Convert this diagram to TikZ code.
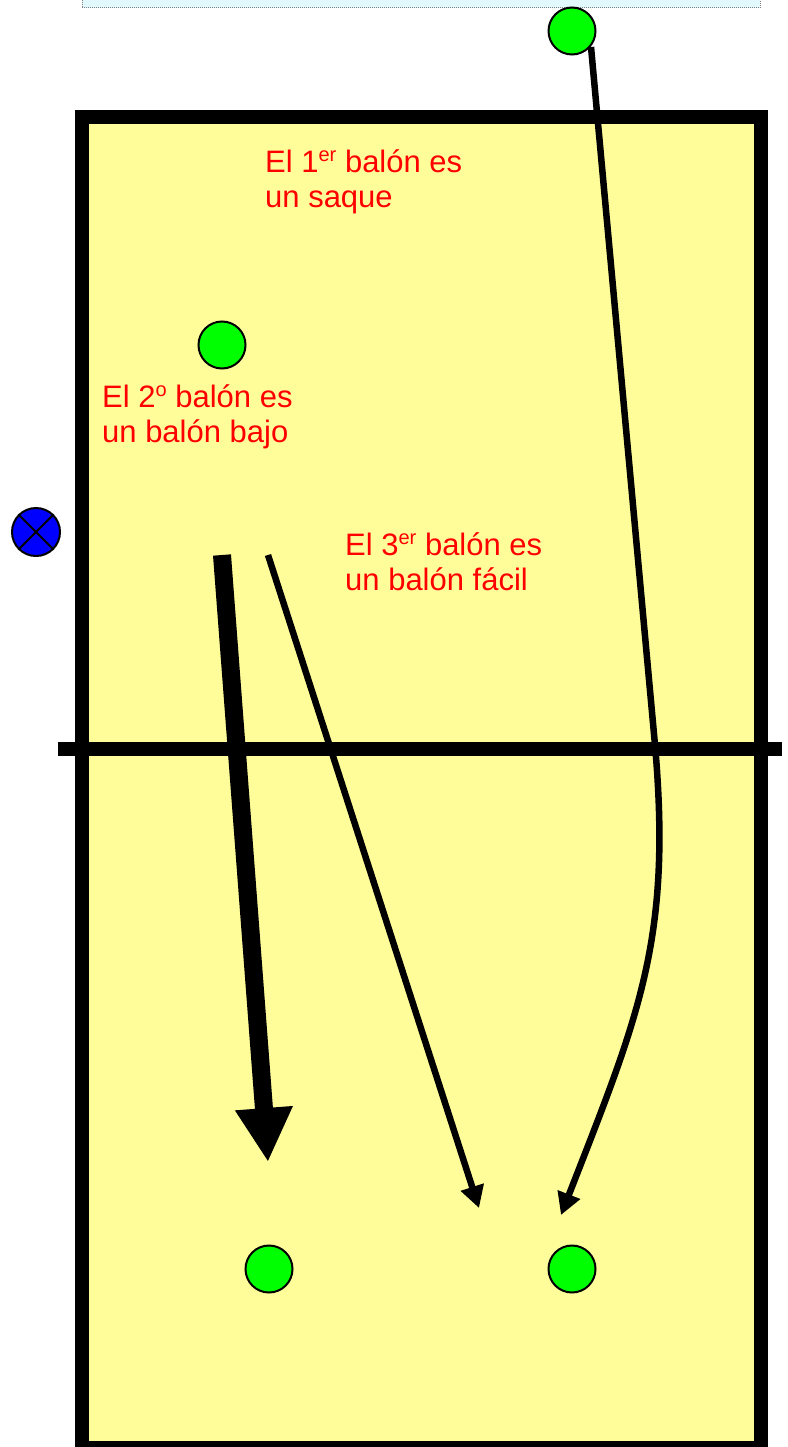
\documentclass[tikz,border=0pt]{standalone}
\usepackage{fontspec}
\setmainfont{Liberation Sans}
\usetikzlibrary{arrows.meta}
\definecolor{courtyellow}{RGB}{255,253,153}
\definecolor{ballgreen}{RGB}{0,255,0}
\definecolor{ballblue}{RGB}{0,0,255}
\definecolor{topboxfill}{RGB}{225,248,253}
\newcommand\supx[1]{\raisebox{11pt}{\fontsize{20}{20}\selectfont #1}}
\tikzset{
  lbl/.style={text=red, font=\fontsize{31}{35}\selectfont, inner sep=0pt, anchor=base west},
  ball/.style={circle, fill=ballgreen, draw=black, line width=2pt, minimum size=47pt, inner sep=0pt},
  blueball/.style={circle, fill=ballblue, draw=black, line width=2pt, minimum size=48pt, inner sep=0pt},
  thickarrow/.style={line width=18pt, -{Triangle[width=54pt,length=54pt]}},
  thinarrow/.style={line width=6.5pt, -{Triangle[width=23pt,length=22pt]}},
  border/.style={line width=14pt}
}
\begin{document}
\begin{tikzpicture}[x=1pt,y=-1pt]
\useasboundingbox (0,0) rectangle (787,1447);
\clip (0,0) rectangle (787,1447);
% top box
\draw[fill=topboxfill, draw=gray, line width=1pt, densely dotted] (82,-10) rectangle (760,8);
% court
\draw[border, fill=courtyellow] (82,117.5) rectangle (761,1448);
% net
\coordinate (netL) at (58,749);
\coordinate (netR) at (782,749);
\draw[border] (netL) -- (netR);
% balls
\node[ball] (b1) at (572,31) {};
\node[ball] (b2) at (222,345) {};
\node[ball] (b3) at (269,1269) {};
\node[ball] (b4) at (572,1269) {};
\node[blueball] (p) at (36,532) {};
\draw[line width=2pt] (p.north west) -- (p.south east);
\draw[line width=2pt] (p.north east) -- (p.south west);
% arrows
\coordinate (a1s) at (222,555);
\coordinate (a1e) at (268,1162);
\draw[thickarrow] (a1s) -- (a1e);
\coordinate (a2s) at (268,555);
\coordinate (a2e) at (479,1208);
\draw[thinarrow] (a2s) -- (a2e);
\coordinate (a3s) at (591,47);
\coordinate (a3m) at (655,745);
\coordinate (a3e) at (561,1215);
\draw[thinarrow] (a3s) -- (a3m) .. controls (672,940) and (639,1015) .. (a3e);
% labels
\node[lbl] (t1a) at (265,173) {El 1\supx{er} balón es};
\node[lbl] (t1b) at (265,208) {un saque};
\node[lbl] (t2a) at (102,407) {El 2\supx{o} balón es};
\node[lbl] (t2b) at (102,442) {un balón bajo};
\node[lbl] (t3a) at (345,555) {El 3\supx{er} balón es};
\node[lbl] (t3b) at (345,590) {un balón fácil};
\end{tikzpicture}
\end{document}
